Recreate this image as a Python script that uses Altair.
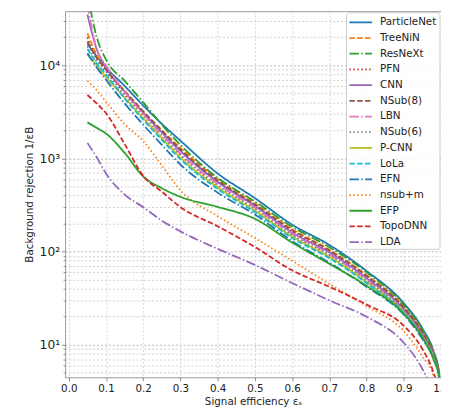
import altair as alt
import pandas as pd

MODELS = ["ParticleNet", "TreeNiN", "ResNeXt", "PFN", "CNN", "NSub(8)", "LBN",
          "NSub(6)", "P-CNN", "LoLa", "EFN", "nsub+m", "EFP", "TopoDNN", "LDA"]
COLORS = ["#1f77b4", "#ff7f0e", "#2ca02c", "#d62728", "#9467bd", "#8c564b", "#e377c2",
          "#7f7f7f", "#bcbd22", "#17becf", "#1f77b4", "#ff7f0e", "#2ca02c", "#d62728", "#9467bd"]
STYLES = [[1, 0], [5.5, 2.4], [9.6, 2.4, 1.5, 2.4], [1.5, 2.5]]
DASHES = [STYLES[i % 4] for i in range(len(MODELS))]

# signal efficiency grid
EFF = [0.05, 0.075, 0.1, 0.15, 0.2, 0.25, 0.3, 0.4, 0.5, 0.6, 0.7, 0.8, 0.9, 0.95, 0.98, 0.995, 1.0]

# background rejection 1/eps_B per model
PARTICLENET = [17000, 12500, 9500, 6000, 3700, 2350, 1550, 690, 375, 195, 118, 62, 28, 15, 8.5, 5.0, 1]
TREENIN = [22000, 13000, 9000, 5300, 3200, 2000, 1300, 600, 330, 175, 105, 56, 26, 14, 8.0, 4.8, 1]
RESNEXT = [60000, 20000, 11500, 6800, 4000, 2300, 1400, 620, 345, 185, 112, 60, 27, 14.5, 8.3, 4.9, 1]
PFN = [20000, 12000, 9000, 5000, 3000, 1900, 1200, 560, 310, 165, 100, 54, 25, 13.5, 7.8, 4.7, 1]
CNN = [35000, 15000, 9500, 5200, 3100, 1900, 1200, 560, 310, 160, 98, 52, 24, 13, 7.6, 4.6, 1]
NSUB8 = [18000, 12000, 9000, 5300, 3200, 2000, 1250, 580, 320, 170, 103, 55, 25, 13.5, 7.8, 4.7, 1]
LBN = [45000, 15000, 10000, 5200, 3000, 1800, 1120, 530, 295, 155, 94, 50, 23, 12.5, 7.4, 4.5, 1]
NSUB6 = [16000, 11000, 8500, 4700, 2800, 1700, 1080, 510, 285, 150, 92, 49, 23, 12.5, 7.4, 4.5, 1]
PCNN = [13000, 10000, 7500, 4500, 2700, 1650, 1020, 490, 275, 145, 88, 47, 22, 12, 7.2, 4.4, 1]
LOLA = [15000, 10500, 8000, 4400, 2600, 1580, 980, 470, 265, 140, 85, 46, 22, 12, 7.2, 4.4, 1]
EFN = [13500, 9500, 7000, 3900, 2300, 1400, 860, 430, 250, 130, 76, 42, 21, 11.5, 7.0, 4.3, 1]
NSUBM = [6800, 5400, 4070, 2330, 1540, 840, 455, 240, 140, 80, 45, 26, 14, 7.5, 4.6, 2.5, 1]
EFP = [2440, 2130, 1850, 1150, 640, 480, 387, 302, 225, 125, 74, 43, 21.5, 12, 7.0, 4.6, 1]
TOPODNN = [4800, 3900, 3060, 1430, 650, 440, 300, 187, 112, 63, 42, 27, 16, 9.0, 5.0, 3.0, 1]
LDA = [1470, 1030, 690, 410, 300, 215, 165, 107, 72, 46, 30, 20, 10.5, 5.5, 3.0, 1.8, 1]

SERIES = [PARTICLENET, TREENIN, RESNEXT, PFN, CNN, NSUB8, LBN, NSUB6, PCNN, LOLA,
          EFN, NSUBM, EFP, TOPODNN, LDA]

X_TICKS = [0.0, 0.1, 0.2, 0.3, 0.4, 0.5, 0.6, 0.7, 0.8, 0.9, 1.0]
Y_TICKS = [5, 6, 7, 8, 9, 10, 20, 30, 40, 50, 60, 70, 80, 90, 100, 200, 300, 400, 500,
           600, 700, 800, 900, 1000, 2000, 3000, 4000, 5000, 6000, 7000, 8000, 9000,
           10000, 20000, 30000]

rows = []
for i, (m, vals) in enumerate(zip(MODELS, SERIES)):
    for x, v in zip(EFF, vals):
        rows.append({"model": m, "order": i, "eff": x, "rej": v})
df = pd.DataFrame(rows)
leg_df = pd.DataFrame({"model": MODELS, "idx": list(range(len(MODELS)))})

FONT = "DejaVu Sans"
color_scale = alt.Scale(domain=MODELS, range=COLORS)
dash_scale = alt.Scale(domain=MODELS, range=DASHES)

major_test = "indexof([10, 100, 1000, 10000], datum.value) >= 0"

lines = alt.Chart(df).mark_line(strokeWidth=1.8, clip=True, interpolate="monotone").encode(
    x=alt.X("eff:Q", scale=alt.Scale(domain=[-0.01, 1.0], nice=False, zero=False),
            axis=alt.Axis(values=X_TICKS, format=".1f", title="Signal efficiency εₛ",
                          labelFontSize=10.5, titleFontSize=10.5, titleFontWeight="normal",
                          tickSize=3.5, labelPadding=3, titlePadding=3,
                          gridColor="#d4d4d4", gridDash=[2, 2],
                          tickColor="#888888", labelColor="#222222", titleColor="#222222",
                          domain=False, labelFlush=False)),
    y=alt.Y("rej:Q", scale=alt.Scale(type="log", domain=[4.48, 38100], nice=False),
            axis=alt.Axis(values=Y_TICKS, title="Background rejection 1/εB",
                          labelExpr="datum.value == 10 ? '10¹' : datum.value == 100 ? '10²' : datum.value == 1000 ? '10³' : datum.value == 10000 ? '10⁴' : ''",
                          labelFontSize=12.5, titleFontSize=10.5, titleFontWeight="normal",
                          labelPadding=2, titlePadding=5,
                          tickSize={"condition": {"test": major_test, "value": 3.5}, "value": 2},
                          gridColor={"condition": {"test": major_test, "value": "#b8b8b8"}, "value": "#d0d0d0"},
                          gridDash=[2, 2], tickColor="#888888", labelColor="#222222",
                          titleColor="#222222", domain=False)),
    color=alt.Color("model:N", scale=color_scale, legend=None),
    strokeDash=alt.StrokeDash("model:N", scale=dash_scale, legend=None),
    detail="model:N",
    order=alt.Order("order:Q"),
)

leg_y = alt.Y("idx:Q", scale=alt.Scale(domain=[0, 14], range=[11.3, 234.7]), axis=None)

leg_box = alt.Chart(pd.DataFrame({"a": [0]})).mark_rect(
    fill="white", fillOpacity=0.85, stroke="#cccccc", strokeWidth=1, cornerRadius=3
).encode(x=alt.value(286), x2=alt.value(381), y=alt.value(1.5), y2=alt.value(242))

leg_lines = alt.Chart(leg_df).mark_rule(strokeWidth=1.8).encode(
    x=alt.value(289), x2=alt.value(312), y=leg_y,
    color=alt.Color("model:N", scale=color_scale, legend=None),
    strokeDash=alt.StrokeDash("model:N", scale=dash_scale, legend=None),
)

leg_text = alt.Chart(leg_df).mark_text(align="left", baseline="middle", fontSize=10.5,
                                       font=FONT, color="#222222").encode(
    x=alt.value(320), y=leg_y, text="model:N")

chart = alt.layer(lines, leg_box, leg_lines, leg_text).resolve_scale(y="independent").properties(
    width=382, height=372,
    padding={"left": 58, "top": 0, "right": 0, "bottom": 29},
    autosize=alt.AutoSizeParams(type="none"),
).configure(font=FONT).configure_view(stroke="#999999", strokeWidth=1)

chart.save("out.html", embed_options={"renderer": "svg", "actions": False})
